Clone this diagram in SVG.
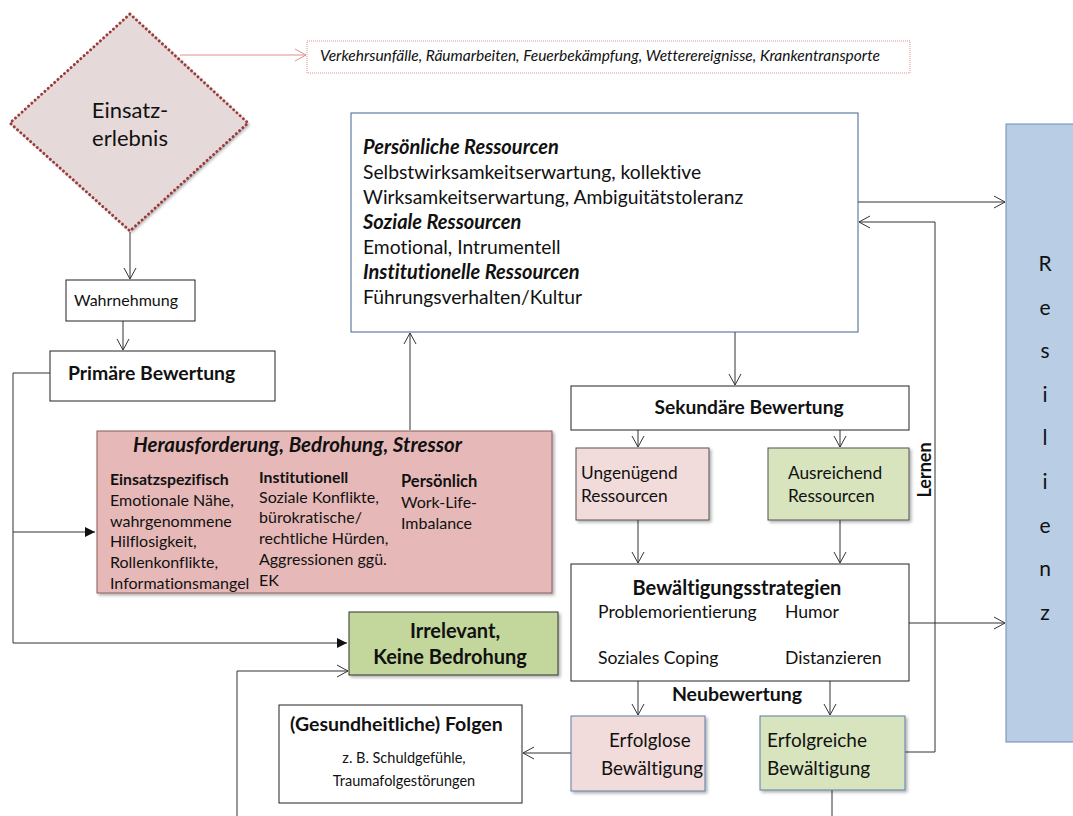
<svg xmlns="http://www.w3.org/2000/svg" width="1073" height="816" viewBox="0 0 1073 816">
<style>
text{font-family:Lato,"Open Sans","Liberation Sans",sans-serif;fill:#111;font-variant-ligatures:none}
.b{font-weight:bold}
.bi{font-weight:bold;font-style:italic}
.box{fill:#fff;stroke:#222;stroke-width:1}
.ln{fill:none;stroke:#333;stroke-width:1}
</style>
<defs>
<marker id="open" markerWidth="14" markerHeight="14" refX="12" refY="7" orient="auto" markerUnits="userSpaceOnUse">
<path d="M1,1 L12,7 L1,13" fill="none" stroke="#333" stroke-width="1"/>
</marker>
<marker id="openr" markerWidth="14" markerHeight="14" refX="12" refY="7" orient="auto" markerUnits="userSpaceOnUse">
<path d="M1,1 L12,7 L1,13" fill="none" stroke="#E08F8F" stroke-width="1"/>
</marker>
<marker id="fill" markerWidth="12" markerHeight="12" refX="10" refY="6" orient="auto" markerUnits="userSpaceOnUse">
<path d="M0,1 L10,6 L0,11 Z" fill="#111"/>
</marker>
<filter id="sh" x="-5%" y="-5%" width="115%" height="120%">
<feDropShadow dx="2" dy="2" stdDeviation="1.5" flood-color="#000" flood-opacity="0.3"/>
</filter>
</defs>

<g id="connectors">
<line x1="180" y1="55" x2="306" y2="55" style="fill:none;stroke:#E08F8F;stroke-width:1" marker-end="url(#openr)"/>
<line class="ln" x1="130" y1="232" x2="130" y2="279" marker-end="url(#open)"/>
<line class="ln" x1="123" y1="321" x2="123" y2="350" marker-end="url(#open)"/>
<polyline class="ln" points="50,373 13,373 13,643 347,643" marker-end="url(#fill)"/>
<line class="ln" x1="13" y1="532" x2="95" y2="532" marker-end="url(#fill)"/>
<line class="ln" x1="410" y1="430" x2="410" y2="333" marker-end="url(#open)"/>
<line class="ln" x1="735" y1="332" x2="735" y2="385" marker-end="url(#open)"/>
<line class="ln" x1="858" y1="202" x2="1005" y2="202" marker-end="url(#open)"/>
<line class="ln" x1="638" y1="430" x2="638" y2="447" marker-end="url(#open)"/>
<line class="ln" x1="840" y1="430" x2="840" y2="447" marker-end="url(#open)"/>
<line class="ln" x1="638" y1="520" x2="638" y2="563" marker-end="url(#open)"/>
<line class="ln" x1="840" y1="520" x2="840" y2="563" marker-end="url(#open)"/>
<line class="ln" x1="909" y1="623" x2="1005" y2="623" marker-end="url(#open)"/>
<line class="ln" x1="638" y1="681" x2="638" y2="715" marker-end="url(#open)"/>
<line class="ln" x1="830" y1="681" x2="830" y2="715" marker-end="url(#open)"/>
<line class="ln" x1="571" y1="753" x2="523" y2="753" marker-end="url(#open)"/>
<polyline class="ln" points="905,752 935,752 935,222 859,222" marker-end="url(#open)"/>
<line class="ln" x1="832" y1="790" x2="832" y2="816"/>
<polyline class="ln" points="237,816 237,671 348,671" marker-end="url(#open)"/>
<text class="b" x="0" y="0" font-size="18" transform="translate(931,470) rotate(-90)" text-anchor="middle">Lernen</text>
<text class="b" x="737" y="701" font-size="19.5" text-anchor="middle">Neubewertung</text>
</g>

<g id="einsatzerlebnis">
<polygon points="130,14 248,123 130,231 10,123" fill="#E6D9D9" stroke="none" filter="url(#sh)"/>
<polygon points="130,14 248,123 130,231 10,123" fill="none" stroke="#9B3A3A" stroke-width="3" stroke-dasharray="0.01 4.4" stroke-linecap="round"/>
<text x="130" y="118" font-size="22" text-anchor="middle">Einsatz-</text>
<text x="130" y="146" font-size="22" text-anchor="middle">erlebnis</text>
</g>

<g id="beispiele">
<rect x="307" y="41" width="603" height="32" fill="#fff" stroke="#E08F8F" stroke-width="1" stroke-dasharray="1 1"/>
<text x="320" y="61" font-size="15.5" font-style="italic">Verkehrsunfälle, Räumarbeiten, Feuerbekämpfung, Wetterereignisse, Krankentransporte</text>
</g>

<g id="ressourcen">
<rect x="351" y="113" width="507" height="219" fill="#fff" stroke="#41658F" stroke-width="1"/>
<text x="363" y="154" font-size="20" class="bi">Persönliche Ressourcen</text>
<text x="363" y="179" font-size="19.3">Selbstwirksamkeitserwartung, kollektive</text>
<text x="363" y="204" font-size="19.3">Wirksamkeitserwartung, Ambiguitätstoleranz</text>
<text x="363" y="229" font-size="20" class="bi">Soziale Ressourcen</text>
<text x="363" y="254" font-size="19.3">Emotional, Intrumentell</text>
<text x="363" y="279" font-size="20" class="bi">Institutionelle Ressourcen</text>
<text x="363" y="304" font-size="19.3">Führungsverhalten/Kultur</text>
</g>

<g id="resilienz">
<rect x="1006" y="124" width="80" height="618" fill="#B9CDE5" stroke="#6F8BAF" stroke-width="1"/>
<g font-size="21" text-anchor="middle">
<text x="1045" y="271">R</text>
<text x="1045" y="315">e</text>
<text x="1045" y="358">s</text>
<text x="1045" y="402">i</text>
<text x="1045" y="445">l</text>
<text x="1045" y="489">i</text>
<text x="1045" y="533">e</text>
<text x="1045" y="576">n</text>
<text x="1045" y="620">z</text>
</g>
</g>

<g id="wahrnehmung">
<rect class="box" x="66" y="280" width="129" height="41"/>
<text x="74" y="306" font-size="16">Wahrnehmung</text>
</g>

<g id="primaer">
<rect class="box" x="50" y="351" width="225" height="50"/>
<text x="68" y="380" font-size="19.4" class="b">Primäre Bewertung</text>
</g>

<g id="herausforderung">
<rect x="97" y="431" width="455" height="162" fill="#E6B9B8" stroke="#8A5A58" stroke-width="1" filter="url(#sh)"/>
<text x="133" y="452" font-size="20.5" class="bi">Herausforderung, Bedrohung, Stressor</text>
<g font-size="16">
<text x="110" y="485" class="b" font-size="15.8">Einsatzspezifisch</text>
<text x="110" y="506">Emotionale Nähe,</text>
<text x="110" y="527">wahrgenommene</text>
<text x="110" y="547">Hilflosigkeit,</text>
<text x="110" y="568">Rollenkonflikte,</text>
<text x="110" y="589">Informationsmangel</text>
<text x="259" y="483" class="b" font-size="15.8">Institutionell</text>
<text x="259" y="503">Soziale Konflikte,</text>
<text x="259" y="523">bürokratische/</text>
<text x="259" y="544">rechtliche Hürden,</text>
<text x="259" y="565">Aggressionen ggü.</text>
<text x="259" y="586">EK</text>
<text x="401" y="487" class="b" font-size="16.5">Persönlich</text>
<text x="401" y="508">Work-Life-</text>
<text x="401" y="529">Imbalance</text>
</g>
</g>

<g id="sekundaer">
<rect class="box" x="571" y="386" width="338" height="44"/>
<text x="749" y="414" font-size="19.2" class="b" text-anchor="middle">Sekundäre Bewertung</text>
</g>

<g id="ungenuegend">
<rect x="576" y="448" width="133" height="72" fill="#F2DCDB" stroke="#555" stroke-width="1" filter="url(#sh)"/>
<text x="581" y="479" font-size="17.3">Ungenügend</text>
<text x="581" y="502" font-size="17.3">Ressourcen</text>
</g>

<g id="ausreichend">
<rect x="768" y="448" width="141" height="72" fill="#D7E4BD" stroke="#555" stroke-width="1" filter="url(#sh)"/>
<text x="788" y="479" font-size="17.3">Ausreichend</text>
<text x="788" y="502" font-size="17.3">Ressourcen</text>
</g>

<g id="bewaeltigung">
<rect class="box" x="571" y="564" width="338" height="117"/>
<text x="737" y="595" font-size="20" class="b" text-anchor="middle">Bewältigungsstrategien</text>
<text x="598" y="618" font-size="17.6">Problemorientierung</text>
<text x="785" y="618" font-size="17.6">Humor</text>
<text x="598" y="664" font-size="17.6">Soziales Coping</text>
<text x="785" y="664" font-size="17.6">Distanzieren</text>
</g>

<g id="irrelevant">
<rect x="349" y="612" width="209" height="63" fill="#C3D69B" stroke="#333" stroke-width="1" filter="url(#sh)"/>
<text x="455" y="638" font-size="20" class="b" text-anchor="middle">Irrelevant,</text>
<text x="450" y="664" font-size="20" class="b" text-anchor="middle">Keine Bedrohung</text>
</g>

<g id="folgen">
<rect class="box" x="279" y="705" width="243" height="98"/>
<text x="290" y="731" font-size="19.5" class="b">(Gesundheitliche) Folgen</text>
<text x="404" y="763" font-size="14.5" text-anchor="middle">z. B. Schuldgefühle,</text>
<text x="404" y="786" font-size="14.5" text-anchor="middle">Traumafolgestörungen</text>
</g>

<g id="erfolglos">
<rect x="571" y="716" width="134" height="75" fill="#F2DCDB" stroke="#5B7FA6" stroke-width="1" filter="url(#sh)"/>
<text x="609" y="747" font-size="18.8">Erfolglose</text>
<text x="601" y="775" font-size="18.8">Bewältigung</text>
</g>

<g id="erfolgreich">
<rect x="760" y="716" width="145" height="74" fill="#D7E4BD" stroke="#5B7FA6" stroke-width="1" filter="url(#sh)"/>
<text x="767" y="747" font-size="19">Erfolgreiche</text>
<text x="767" y="775" font-size="19">Bewältigung</text>
</g>
</svg>
